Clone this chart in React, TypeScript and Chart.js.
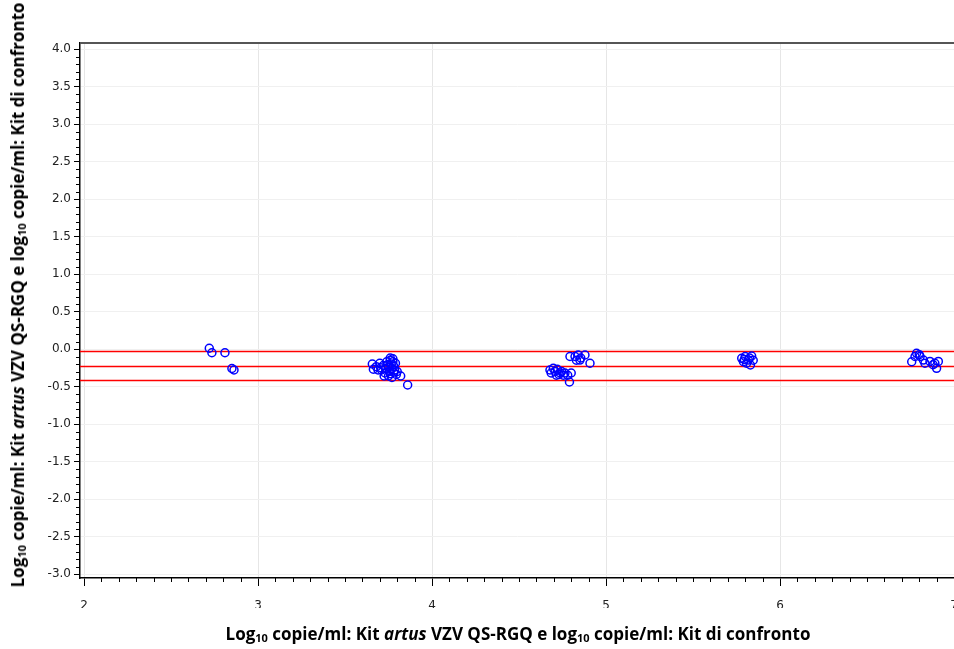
import React, { useEffect, useRef } from "react";
import { Chart, registerables } from "chart.js";

Chart.register(...registerables);

const X_MIN = 1.977;
const X_MAX = 7.0;
const Y_MIN = -3.053;
const Y_MAX = 4.08;

const xTickLabels = ["2", "3", "4", "5", "6", "7"];
const yTickLabels = ["4.0", "3.5", "3.0", "2.5", "2.0", "1.5", "1.0", "0.5", "0.0", "-0.5", "-1.0", "-1.5", "-2.0", "-2.5", "-3.0"];

// Horizontal reference lines (upper limit, mean, lower limit)
const refLines = [-0.025, -0.22, -0.415];

// Cluster 1
const c1x = [2.72, 2.735, 2.81, 2.85, 2.862];
const c1y = [0.01, -0.05, -0.05, -0.26, -0.28];

// Cluster 2
const c2x = [3.657, 3.663, 3.68, 3.69, 3.7, 3.705, 3.71, 3.72, 3.73, 3.735, 3.74, 3.745, 3.75, 3.75, 3.755, 3.76, 3.76, 3.765, 3.77, 3.77, 3.775, 3.78, 3.78, 3.785, 3.79, 3.795, 3.8, 3.82, 3.86, 3.725, 3.76, 3.775];
const c2y = [-0.2, -0.27, -0.235, -0.28, -0.19, -0.25, -0.28, -0.22, -0.32, -0.26, -0.17, -0.21, -0.36, -0.24, -0.3, -0.15, -0.33, -0.2, -0.26, -0.38, -0.17, -0.23, -0.31, -0.28, -0.19, -0.34, -0.3, -0.36, -0.48, -0.36, -0.12, -0.13];

// Cluster 3
const c3x = [4.678, 4.685, 4.697, 4.707, 4.715, 4.72, 4.736, 4.745, 4.764, 4.78, 4.8, 4.79, 4.73, 4.755, 4.793, 4.822, 4.84, 4.85, 4.855, 4.879, 4.908, 4.83];
const c3y = [-0.28, -0.32, -0.257, -0.3, -0.35, -0.27, -0.32, -0.3, -0.32, -0.35, -0.32, -0.44, -0.34, -0.35, -0.1, -0.1, -0.08, -0.147, -0.12, -0.08, -0.19, -0.15];

// Cluster 4
const c4x = [5.78, 5.79, 5.8, 5.808, 5.818, 5.83, 5.837, 5.846, 5.795, 5.825];
const c4y = [-0.124, -0.17, -0.1, -0.19, -0.147, -0.213, -0.093, -0.15, -0.14, -0.12];

// Cluster 5
const c5x = [6.757, 6.776, 6.785, 6.8, 6.805, 6.824, 6.833, 6.862, 6.89, 6.91, 6.9, 6.88];
const c5y = [-0.17, -0.1, -0.057, -0.075, -0.1, -0.147, -0.19, -0.165, -0.19, -0.165, -0.257, -0.21];

const allX = [...c1x, ...c2x, ...c3x, ...c4x, ...c5x];
const allY = [...c1y, ...c2y, ...c3y, ...c4y, ...c5y];

const decorations = {
  id: "decorations",
  beforeDatasetsDraw(chart: any) {
    const { ctx, chartArea, scales } = chart;
    const ys = scales.y;
    ctx.save();
    ctx.strokeStyle = "#ff0000";
    ctx.lineWidth = 1.3;
    refLines.forEach((v) => {
      const py = Math.round(ys.getPixelForValue(v)) + 0.5;
      ctx.beginPath();
      ctx.moveTo(chartArea.left, py);
      ctx.lineTo(chartArea.right, py);
      ctx.stroke();
    });
    ctx.restore();
  },
  afterDraw(chart: any) {
    const { ctx, chartArea, scales } = chart;
    const xs = scales.x;
    const ys = scales.y;
    ctx.save();
    ctx.strokeStyle = "#000";
    ctx.lineWidth = 1;
    for (let i = 20; i <= 70; i++) {
      if (i % 10 === 0) continue;
      const v = i / 10;
      if (v < X_MIN || v > X_MAX) continue;
      const px = Math.round(xs.getPixelForValue(v)) + 0.5;
      ctx.beginPath();
      ctx.moveTo(px, chartArea.bottom);
      ctx.lineTo(px, chartArea.bottom + 4);
      ctx.stroke();
    }
    for (let i = -30; i <= 40; i++) {
      if (i % 5 === 0) continue;
      const v = i / 10;
      const py = Math.round(ys.getPixelForValue(v)) + 0.5;
      ctx.beginPath();
      ctx.moveTo(chartArea.left - 4, py);
      ctx.lineTo(chartArea.left, py);
      ctx.stroke();
    }
    ctx.strokeStyle = "#555";
    ctx.lineWidth = 2;
    ctx.beginPath();
    ctx.moveTo(chartArea.left, chartArea.top);
    ctx.lineTo(chartArea.right, chartArea.top);
    ctx.stroke();
    ctx.restore();
  },
};

export default function App() {
  const canvasRef = useRef<HTMLCanvasElement>(null);

  useEffect(() => {
    document.body.style.margin = "0";
    const canvas = canvasRef.current!;
    const chart = new Chart(canvas, {
      type: "scatter",
      data: {
        datasets: [
          {
            data: allX.map((x, i) => ({ x, y: allY[i] })),
            pointStyle: "circle",
            pointRadius: 4,
            pointBorderWidth: 1.5,
            borderColor: "#0000ff",
            backgroundColor: "rgba(0,0,0,0)",
          } as any,
        ],
      },
      options: {
        responsive: false,
        animation: false,
        layout: { autoPadding: false, padding: { top: 43, bottom: 41, left: 0, right: 0 } },
        plugins: { legend: { display: false }, tooltip: { enabled: false } },
        scales: {
          x: {
            type: "linear",
            min: X_MIN,
            max: X_MAX,
            ticks: {
              stepSize: 1,
              includeBounds: false,
              padding: 13,
              color: "#222",
              font: { family: "DejaVu Sans", size: 12 },
              maxRotation: 0,
              callback: (v: any) => {
                const s = String(Math.round(Number(v)));
                return xTickLabels.includes(s) ? s : "";
              },
            },
            grid: { color: "#e6e6e6", tickColor: "#000", tickLength: 8, lineWidth: 1 },
            border: { color: "#000", width: 1.5 },
            afterFit: (scale: any) => {
              scale.height = 30;
              scale.paddingLeft = 0;
              scale.paddingRight = 0;
            },
          },
          y: {
            type: "linear",
            min: Y_MIN,
            max: Y_MAX,
            ticks: {
              stepSize: 0.5,
              includeBounds: false,
              padding: 3,
              color: "#222",
              font: { family: "DejaVu Sans", size: 12 },
              callback: (v: any) => {
                const s = (Math.round(Number(v) * 10) / 10).toFixed(1).replace("-0.0", "0.0");
                return yTickLabels.includes(s) ? s : "";
              },
            },
            grid: { color: "#f0f0f0", tickColor: "#000", tickLength: 6, lineWidth: 1 },
            border: { color: "#000", width: 1.5 },
            afterFit: (scale: any) => {
              scale.width = 80;
              scale.paddingTop = 0;
              scale.paddingBottom = 0;
            },
          },
        },
      },
      plugins: [decorations],
    });
    return () => chart.destroy();
  }, []);

  const titleStyle: React.CSSProperties = {
    position: "absolute",
    fontFamily: "'Open Sans', sans-serif",
    fontWeight: 700,
    fontSize: 17,
    color: "#000",
    whiteSpace: "nowrap",
    lineHeight: "20px",
  };
  const subStyle: React.CSSProperties = { fontSize: 11, verticalAlign: "-2px" };

  return (
    <div style={{ position: "fixed", left: 0, top: 0, width: 954, height: 649, overflow: "hidden", background: "#fff" }}>
      <canvas ref={canvasRef} width={954} height={649} style={{ position: "absolute", left: 0, top: 0 }} />
      <div style={{ ...titleStyle, left: 518, top: 636, transform: "translate(-50%, -50%)" }}>
        Log<span style={subStyle}>10</span> copie/ml: Kit <i>artus</i> VZV QS-RGQ e log<span style={subStyle}>10</span> copie/ml: Kit di confronto
      </div>
      <div style={{ ...titleStyle, left: 20, top: 295, transform: "translate(-50%, -50%) rotate(-90deg)" }}>
        Log<span style={subStyle}>10</span> copie/ml: Kit <i>artus</i> VZV QS-RGQ e log<span style={subStyle}>10</span> copie/ml: Kit di confronto
      </div>
    </div>
  );
}
